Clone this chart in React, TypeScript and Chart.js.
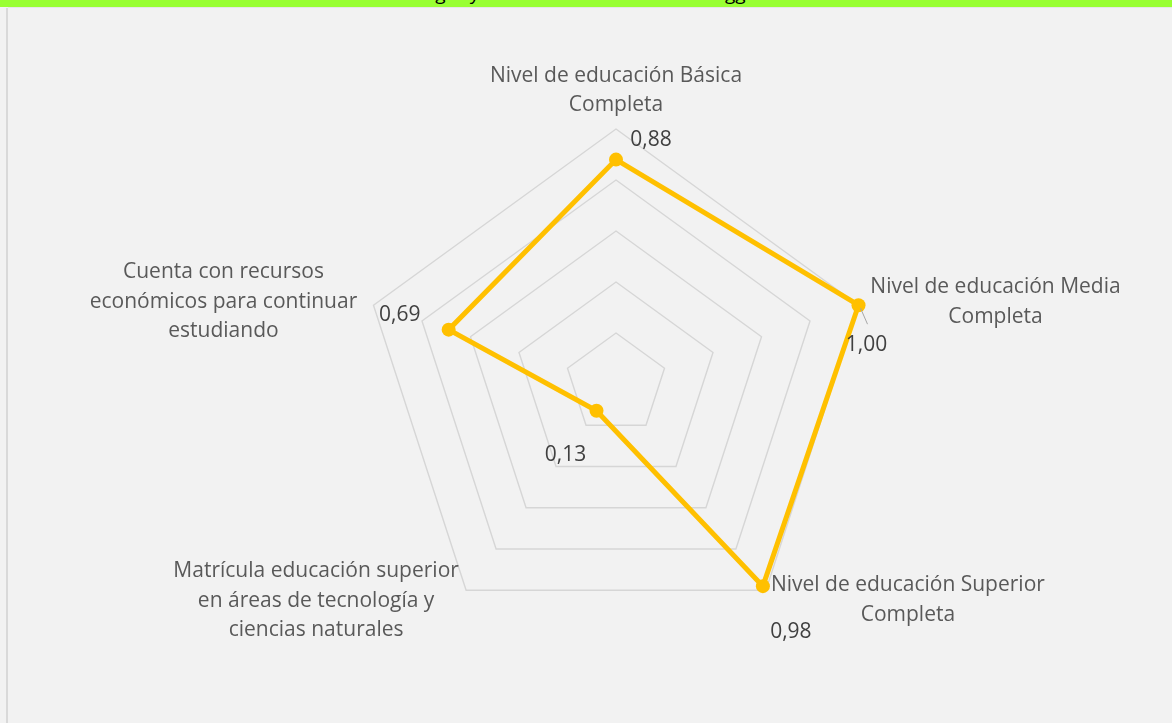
import React, { useEffect, useRef } from "react";
import { Chart, registerables } from "chart.js";

Chart.register(...registerables);

const titleText = "Logro y acceso educacional en O'Higgins";

const categories: string[][] = [
  ["Nivel de educación Básica", "Completa"],
  ["Nivel de educación Media", "Completa"],
  ["Nivel de educación Superior", "Completa"],
  ["Matrícula educación superior", "en áreas de tecnología y", "ciencias naturales"],
  ["Cuenta con recursos", "económicos para continuar", "estudiando"],
];

const values: number[] = [0.88, 1.0, 0.98, 0.13, 0.69];

const valueLabels: string[] = ["0,88", "1,00", "0,98", "0,13", "0,69"];

const tickSteps: number[] = [0, 0.2, 0.4, 0.6, 0.8, 1.0];

const FONT = "'Open Sans', sans-serif";

// label block placement relative to each axis end (centre x offset, first line y offset)
const catOffsets = [
  { dx: 0, dy: -53 },
  { dx: 137, dy: -18 },
  { dx: 142, dy: -5 },
  { dx: -150, dy: -19 },
  { dx: -150, dy: -33 },
];
const valOffsets = [
  { dx: 35, dy: -20 },
  { dx: 8, dy: 40 },
  { dx: 28, dy: 46 },
  { dx: -31, dy: 44 },
  { dx: -49, dy: -15 },
];

const labelPlugin = {
  id: "customLabels",
  afterDatasetsDraw(chart: any) {
    const ctx = chart.ctx as CanvasRenderingContext2D;
    const scale = chart.scales.r;
    ctx.save();
    ctx.textAlign = "center";
    ctx.textBaseline = "middle";
    // category labels
    ctx.font = `21px ${FONT}`;
    ctx.fillStyle = "#595959";
    categories.forEach((lines, i) => {
      const p = scale.getPointPosition(i, scale.drawingArea);
      const o = catOffsets[i];
      lines.forEach((line, j) => {
        ctx.fillText(line, p.x + o.dx, p.y + o.dy + j * 29.5);
      });
    });
    // value labels
    const meta = chart.getDatasetMeta(0);
    ctx.font = `21px ${FONT}`;
    ctx.fillStyle = "#404040";
    meta.data.forEach((el: any, i: number) => {
      const o = valOffsets[i];
      ctx.fillText(valueLabels[i], el.x + o.dx, el.y + o.dy);
    });
    // leader line for the right-hand label
    const e1 = meta.data[1];
    ctx.strokeStyle = "#A6A6A6";
    ctx.lineWidth = 1;
    ctx.beginPath();
    ctx.moveTo(e1.x + 2, e1.y + 3);
    ctx.lineTo(e1.x + 9, e1.y + 19);
    ctx.stroke();
    ctx.restore();
  },
};

export default function App() {
  const ref = useRef<HTMLCanvasElement | null>(null);

  useEffect(() => {
    const canvas = ref.current;
    if (!canvas) return;
    const chart = new Chart(canvas, {
      type: "radar",
      data: {
        labels: categories,
        datasets: [
          {
            data: values,
            borderColor: "#FFC000",
            backgroundColor: "#FFC000",
            borderWidth: 5,
            pointRadius: 7,
            pointBackgroundColor: "#FFC000",
            pointBorderColor: "#FFC000",
            pointBorderWidth: 0,
            fill: false,
            tension: 0,
          },
        ],
      },
      options: {
        responsive: false,
        animation: false,
        plugins: {
          legend: { display: false },
          tooltip: { enabled: false },
          title: { display: false },
        },
        scales: {
          r: {
            min: tickSteps[0],
            max: tickSteps[tickSteps.length - 1],
            ticks: { display: false, stepSize: tickSteps[1] - tickSteps[0] },
            grid: { color: "#D6D6D6", lineWidth: 1.4 },
            angleLines: { display: false },
            pointLabels: { display: false },
            afterFit: (scale: any) => {
              scale.xCenter = 616;
              scale.yCenter = 384;
              scale.drawingArea = 255;
            },
          } as any,
        },
      },
      plugins: [labelPlugin],
    });
    return () => chart.destroy();
  }, []);

  return (
    <div
      style={{
        position: "fixed",
        left: 0,
        top: 0,
        width: 1172,
        height: 723,
        background: "#F2F2F2",
        overflow: "hidden",
      }}
    >
      <div
        style={{
          position: "absolute",
          left: 0,
          top: 0,
          width: 1172,
          height: 7,
          background: "#99FF33",
          overflow: "hidden",
        }}
      >
        <div
          style={{
            position: "absolute",
            left: 0,
            top: -17,
            width: 1185,
            textAlign: "center",
            font: `19px ${FONT}`,
            lineHeight: "20px",
            color: "#000",
          }}
        >
          {titleText}
        </div>
      </div>
      <div
        style={{
          position: "absolute",
          left: 6,
          top: 8,
          width: 2,
          bottom: 0,
          background: "#D9D9D9",
        }}
      />
      <div
        style={{
          position: "absolute",
          left: 8,
          top: 7,
          right: 0,
          height: 1,
          background: "#E6E6E6",
        }}
      />
      <canvas
        ref={ref}
        width={1172}
        height={723}
        style={{ position: "absolute", left: 0, top: 0 }}
      />
    </div>
  );
}
